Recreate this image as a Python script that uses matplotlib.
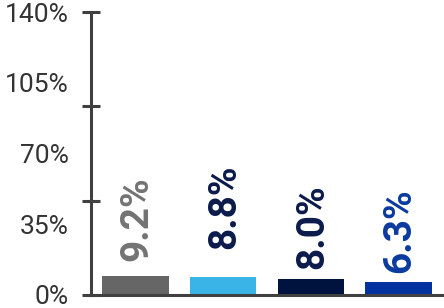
import matplotlib
matplotlib.use("Agg")
import matplotlib.pyplot as plt
import numpy as np

# values
categories = ["A", "B", "C", "D"]
values = [9.2, 8.8, 8.0, 6.3]
value_labels = ["9.2%", "8.8%", "8.0%", "6.3%"]
tick_values = [0, 35, 70, 105, 140]
tick_labels = ["0%", "35%", "70%", "105%", "140%"]

bar_colors = ["#666666", "#3AB4E6", "#00133F", "#0033A0"]
label_colors = ["#737373", "#0A1A4A", "#0A1A4A", "#0A3A9E"]
label_gap = [11, 20, 7, 6.5]  # points above bar

fig = plt.figure(figsize=(4.44, 3.08), dpi=100)
ax = fig.add_axes([91 / 444, 13 / 308, 353 / 444, 283 / 308])

x = np.arange(len(categories))
bars = ax.bar(x, values, width=0.76, color=bar_colors, zorder=2)

for b, lab, col, gap in zip(bars, value_labels, label_colors, label_gap):
    ax.annotate(lab, (b.get_x() + b.get_width() / 2, b.get_height()),
                xytext=(1, gap), textcoords="offset points",
                rotation=90, ha="center", va="bottom",
                fontsize=28, fontweight="bold", family="Roboto", color=col)

ax.set_xlim(-0.506, 3.517)
ax.set_ylim(0, 140)

# labels without marks, marks at thirds of the axis
ax.yaxis.remove_overlapping_locs = False
ax.set_yticks(tick_values)
ax.set_yticklabels(tick_labels, family="Roboto", fontweight="normal",
                   fontsize=19, color="#333333")
ax.tick_params(axis="y", which="major", length=0, pad=16)
ax.set_yticks(np.linspace(0, 140, 4), minor=True)
ax.tick_params(axis="y", which="minor", direction="inout", length=13,
               width=2.2, color="#404040")
ax.set_xticks([])

for s in ["top", "right"]:
    ax.spines[s].set_visible(False)
for s in ["left", "bottom"]:
    ax.spines[s].set_color("#404040")
    ax.spines[s].set_linewidth(2.2)
    ax.spines[s].set_zorder(3)

fig.savefig("out.png", dpi=100)
